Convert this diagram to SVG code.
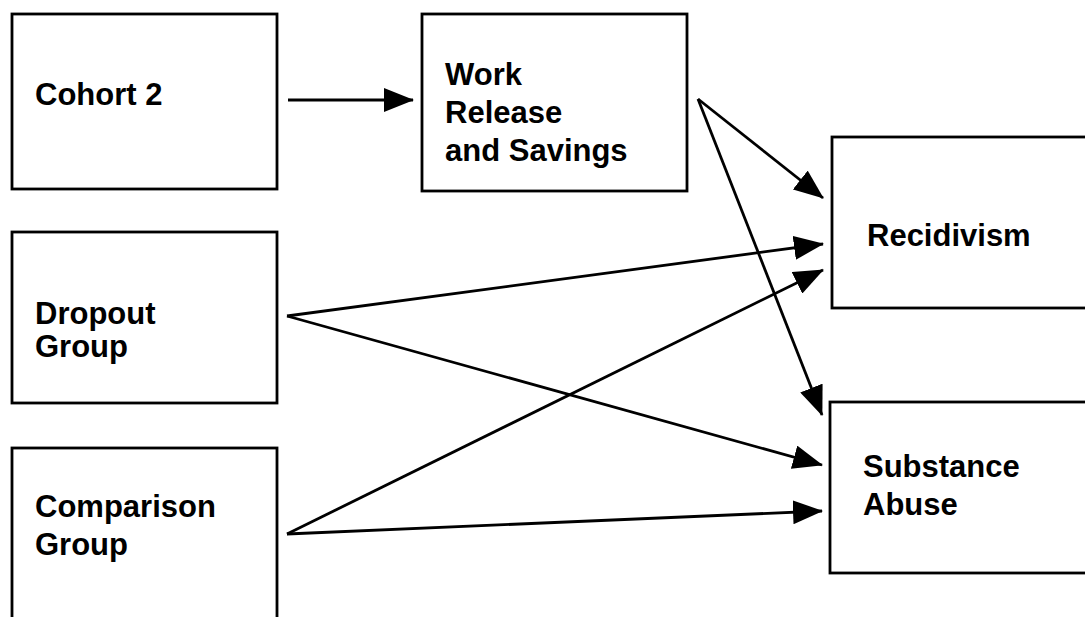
<svg xmlns="http://www.w3.org/2000/svg" width="1085" height="617" viewBox="0 0 1085 617">
<style>
.box{fill:#fff;stroke:#000;stroke-width:2.8}
.lbl{font-family:"Liberation Sans",Arial,sans-serif;font-weight:bold;font-size:31px;fill:#000}
.edge{stroke:#000;stroke-width:2.8;fill:none;marker-end:url(#ah)}
</style>
<defs>
<marker id="ah" markerUnits="userSpaceOnUse" markerWidth="30" markerHeight="24" viewBox="0 0 30 24" refX="29" refY="12" orient="auto">
<path d="M0,0 L30,12 L0,24 Z" fill="#000"/>
</marker>
</defs>
<rect width="1085" height="617" fill="#fff"/>
<g id="cohort2">
<rect class="box" x="12" y="14" width="265" height="175"/>
<text class="lbl" x="35" y="105">Cohort 2</text>
</g>
<g id="work">
<rect class="box" x="422" y="14" width="265" height="177"/>
<text class="lbl" x="445" y="85">Work</text>
<text class="lbl" x="445" y="123">Release</text>
<text class="lbl" x="445" y="161">and Savings</text>
</g>
<g id="dropout">
<rect class="box" x="12" y="232" width="265" height="171"/>
<text class="lbl" x="35" y="324">Dropout</text>
<text class="lbl" x="35" y="357">Group</text>
</g>
<g id="comparison">
<rect class="box" x="12" y="448" width="265" height="180"/>
<text class="lbl" x="35" y="517">Comparison</text>
<text class="lbl" x="35" y="555">Group</text>
</g>
<g id="recidivism">
<rect class="box" x="832" y="137" width="270" height="171"/>
<text class="lbl" x="867" y="246">Recidivism</text>
</g>
<g id="substance">
<rect class="box" x="830" y="402" width="270" height="171"/>
<text class="lbl" x="863" y="477">Substance</text>
<text class="lbl" x="863" y="515">Abuse</text>
</g>
<g id="connectors">
<line class="edge" x1="288" y1="100" x2="413" y2="100"/>
<line class="edge" x1="698" y1="99" x2="823" y2="198"/>
<line class="edge" x1="698" y1="99" x2="822" y2="415"/>
<line class="edge" x1="287" y1="316" x2="823" y2="244"/>
<line class="edge" x1="287" y1="316" x2="822" y2="465"/>
<line class="edge" x1="287" y1="534" x2="823" y2="270"/>
<line class="edge" x1="287" y1="534" x2="822" y2="511"/>
</g>
</svg>
